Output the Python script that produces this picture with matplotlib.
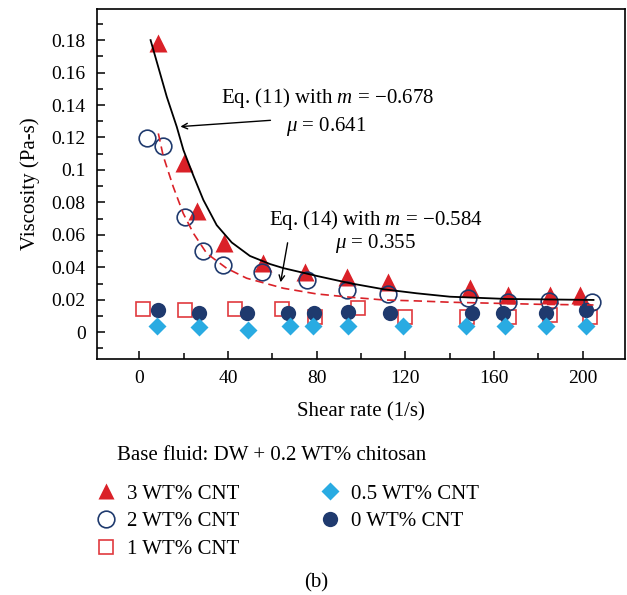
import numpy as np
import matplotlib
matplotlib.use('Agg')
import matplotlib.pyplot as plt
from matplotlib.ticker import MultipleLocator, FuncFormatter
from matplotlib.lines import Line2D

plt.rcParams['font.family'] = ['Liberation Serif', 'DejaVu Serif']
plt.rcParams['mathtext.fontset'] = 'custom'
plt.rcParams['mathtext.rm'] = 'Liberation Serif'
plt.rcParams['mathtext.it'] = 'Liberation Serif:italic'

# ── DATA ─────────────────────────────────────────────────────────────────────
x_3 = [8.4, 20.2, 26.0, 38.0, 55.6, 74.7, 93.6, 112.2, 149.0, 166.3, 185.0, 198.8]
y_3 = [0.178, 0.104, 0.075, 0.055, 0.0426, 0.037, 0.034, 0.031, 0.0273, 0.023, 0.023, 0.023]

x_2 = [3.3, 10.5, 20.6, 28.9, 37.9, 55.5, 75.5, 93.5, 112.3, 148.4, 166.3, 184.9, 204.0]
y_2 = [0.1195, 0.1147, 0.0712, 0.0502, 0.0414, 0.037, 0.0322, 0.026, 0.0236, 0.0213, 0.0189, 0.0193, 0.0189]

x_1 = [1.8, 20.6, 43.2, 64.2, 79.2, 98.8, 119.9, 147.7, 166.5, 185.0, 203.3]
y_1 = [0.0142, 0.0137, 0.0142, 0.0142, 0.0096, 0.0148, 0.0096, 0.0096, 0.0096, 0.0107, 0.0096]

x_05 = [8.1, 27.0, 49.2, 68.0, 78.5, 94.3, 118.8, 147.4, 164.9, 183.3, 201.5]
y_05 = [0.0039, 0.0035, 0.0014, 0.0039, 0.0039, 0.0039, 0.0039, 0.0039, 0.0039, 0.0039, 0.0039]

x_0 = [8.6, 27.0, 48.4, 67.0, 78.8, 94.3, 113.1, 150.0, 164.2, 183.3, 201.5]
y_0 = [0.0137, 0.0121, 0.0117, 0.0117, 0.0117, 0.0127, 0.0121, 0.0117, 0.0117, 0.0117, 0.0137]

# fitted curves
fit11_x = [5.1, 12.4, 16.9, 19.9, 24.4, 28.9, 34.9, 41.7, 49.9, 59.0, 65.0, 80.0, 95.0,
           110.1, 125.1, 140.1, 165.7, 204.8]
fit11_y = [0.180, 0.1451, 0.1266, 0.1123, 0.0965, 0.0815, 0.066, 0.0553, 0.047, 0.042, 0.0395,
           0.0347, 0.0302, 0.0265, 0.024, 0.0219, 0.0205, 0.0199]

fit14_x = [8.6, 10.8, 15.3, 19.8, 24.4, 30.4, 39.4, 48.4, 65.0, 80.0, 95.0, 110.1, 125.1,
           140.1, 180.7, 204.8]
fit14_y = [0.1225, 0.1086, 0.0897, 0.0733, 0.061, 0.0486, 0.0394, 0.0333, 0.0271, 0.0236,
           0.0216, 0.0199, 0.0193, 0.0185, 0.0172, 0.0168]

labels = ['3 WT% CNT', '2 WT% CNT', '1 WT% CNT', '0.5 WT% CNT', '0 WT% CNT']

red = '#DA2128'
navy = '#1F3A6E'
cyan = '#29ABE2'

fig = plt.figure(figsize=(6.27, 5.95), dpi=100)
ax = fig.add_axes([0.1542, 0.3966, 0.8426, 0.5878])

ax.plot(x_3, y_3, '^', color=red, ms=13, mec='none', zorder=2)
ax.plot(x_1, y_1, 's', mfc='none', mec='#E03A3E', mew=1.2, ms=10, zorder=2)
ax.plot(x_0, y_0, 'o', color=navy, ms=11, mec='none', zorder=3)
ax.plot(x_05, y_05, 'D', color=cyan, ms=9, mec='none', zorder=4)
ax.plot(x_2, y_2, 'o', mfc='none', mec=navy, mew=1.2, ms=12, zorder=4)

ax.plot(fit11_x, fit11_y, '-', color='black', lw=1.3, zorder=5)
ax.plot(fit14_x, fit14_y, '--', color=red, lw=1.2, dashes=(5, 3), zorder=5)

ax.set_xlim(-19.2, 219)
ax.set_ylim(-0.0165, 0.199)
ax.set_xticks([0, 40, 80, 120, 160, 200])
ax.set_yticks(np.arange(0, 0.19, 0.02))
ax.xaxis.set_minor_locator(MultipleLocator(20))
ax.yaxis.set_minor_locator(MultipleLocator(0.01))
ax.yaxis.set_major_formatter(FuncFormatter(lambda v, p: '%g' % round(v, 3)))
ax.tick_params(which='both', direction='in', labelsize=14, top=False, right=False)
ax.tick_params(which='major', length=6, width=1.1, pad=8)
ax.tick_params(which='minor', length=4, width=1.1)
for s in ax.spines.values():
    s.set_linewidth(1.2)

ax.set_xlabel('Shear rate (1/s)', fontsize=15, labelpad=11)
ax.set_ylabel('Viscosity (Pa-s)', fontsize=15, labelpad=8)

# annotations
ax.text(84.9, 0.1442, r'Eq. (11) with $m$ = $-$0.678', fontsize=15, ha='center', va='center')
ax.text(84.2, 0.1266, r'$\mu$ = 0.641', fontsize=15, ha='center', va='center')
ax.annotate('', xy=(17.3, 0.1266), xytext=(60.4, 0.1307),
            arrowprops=dict(arrowstyle='->', color='black', lw=1.0))
ax.text(106.8, 0.0692, r'Eq. (14) with $m$ = $-$0.584', fontsize=15, ha='center', va='center')
ax.text(106.5, 0.0545, r'$\mu$ = 0.355', fontsize=15, ha='center', va='center')
ax.annotate('', xy=(63.5, 0.0291), xytext=(67.1, 0.0568),
            arrowprops=dict(arrowstyle='->', color='black', lw=1.0))

# legend
fig.text(117 / 627, 1 - 455 / 595, 'Base fluid: DW + 0.2 WT% chitosan', fontsize=15, va='center')
handles = [
    Line2D([], [], ls='none', marker='^', color=red, mec='none', ms=12),
    Line2D([], [], ls='none', marker='o', mfc='none', mec=navy, mew=1.2, ms=12),
    Line2D([], [], ls='none', marker='s', mfc='none', mec='#E03A3E', mew=1.2, ms=10),
    Line2D([], [], ls='none', marker='D', color=cyan, mec='none', ms=9),
    Line2D([], [], ls='none', marker='o', color=navy, mec='none', ms=11),
]
fig.legend(handles, labels, ncol=2, frameon=False, fontsize=15,
           loc='upper left', bbox_to_anchor=(94 / 627, 1 - 484 / 595),
           handlelength=1.2, handletextpad=0.4, columnspacing=3.75,
           labelspacing=0.4, borderaxespad=0, borderpad=0)

fig.text(316 / 627, 1 - 583 / 595, '(b)', fontsize=15, ha='center', va='center')

fig.savefig('out.png', dpi=100)
